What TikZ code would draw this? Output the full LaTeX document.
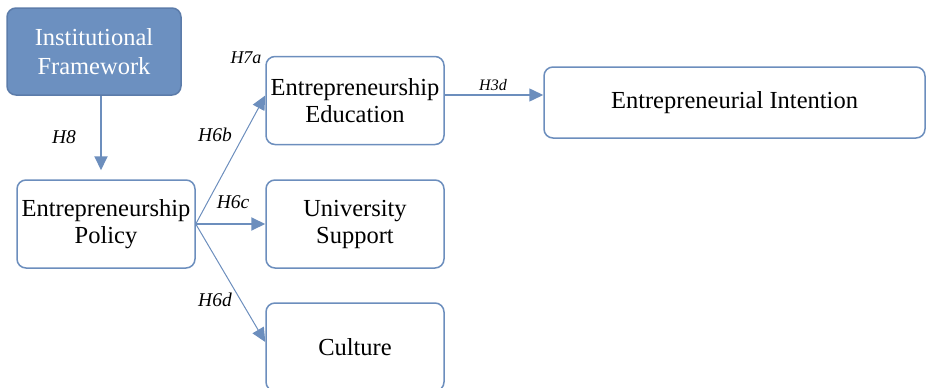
\documentclass[tikz,border=0pt]{standalone}
\usepackage{fontspec}
\setmainfont{Liberation Serif}
\usetikzlibrary{arrows.meta}
\definecolor{boxblue}{RGB}{108,142,189}
\definecolor{fillblue}{RGB}{108,144,192}
\definecolor{edgeblue}{RGB}{92,124,170}

\begin{document}
\begin{tikzpicture}[x=1pt,y=-1pt,
  box/.style={draw=boxblue,rounded corners=9pt,line width=1.5pt,minimum width=178pt,minimum height=88pt,inner sep=0pt,align=center,font=\fontsize{24.5}{27}\selectfont},
  hyp/.style={font=\itshape\fontsize{19.5}{19.5}\selectfont},
  link/.style={draw=boxblue,-{Triangle[length=14pt,width=13pt]}}]
          \useasboundingbox (0,0) rectangle (926,388);
          % factors
          \node[box,fill=fillblue,draw=edgeblue,text=white,minimum width=174pt,minimum height=87pt,font=\fontsize{24.5}{29}\selectfont] (inst) at (94,51.5) {Institutional\\Framework};
          \node[box] (policy) at (106,224) {Entrepreneurship\\Policy};
          \node[box] (edu) at (355,100.5) {Entrepreneurship\\Education};
          \node[box] (supp) at (355,224) {University\\Support};
          \node[box] (cult) at (355,347) {Culture};
          \node[box,minimum width=381pt,minimum height=71pt] (intent) at (734.5,102.5) {Entrepreneurial Intention};
          % paths
          \draw[link,line width=2pt,shorten >=9pt] ([xshift=7pt]inst.south) -- ([xshift=-5pt]policy.north);
          \draw[link,line width=1pt] (policy.east) -- ([yshift=5pt]edu.west);
          \draw[link,line width=2pt] (policy.east) -- (supp.west);
          \draw[link,line width=1pt] (policy.east) -- ([yshift=5pt]cult.west);
          \draw[link,line width=1.5pt] ([yshift=5.5pt]edu.east) -- ([yshift=7.5pt]intent.west);
          % hypotheses
          \node[hyp] (h8) at (64,137) {H8};
          \node[hyp,font=\itshape\fontsize{18}{18}\selectfont] (h7a) at (246,58) {H7a};
          \node[hyp] (h6b) at (215,135) {H6b};
          \node[hyp] (h6c) at (233,202) {H6c};
          \node[hyp] (h6d) at (215,300) {H6d};
          \node[hyp,font=\itshape\fontsize{16}{16}\selectfont] (h3d) at (493,85) {H3d};
        \end{tikzpicture}
\end{document}
